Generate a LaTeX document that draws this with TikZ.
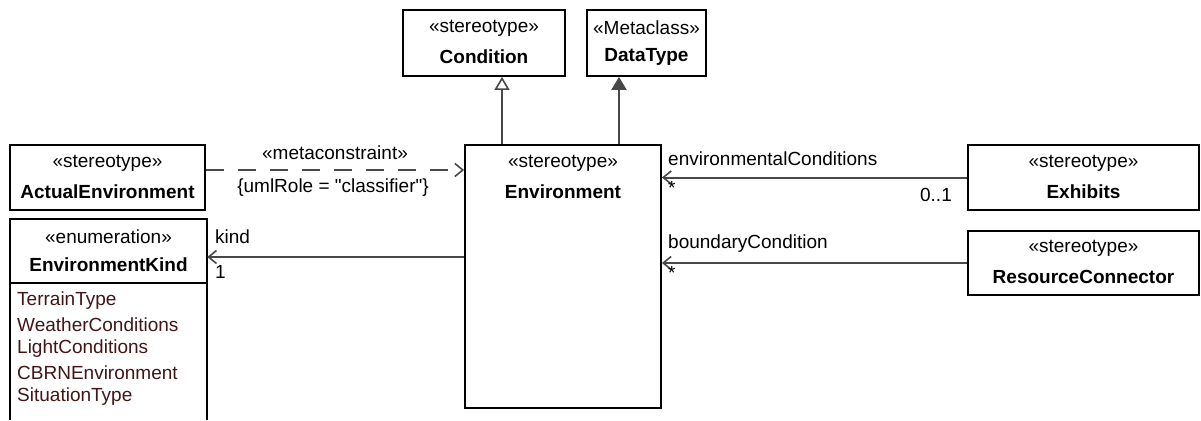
\documentclass[tikz,border=0pt]{standalone}
\usepackage{fontspec}
\setmainfont{Liberation Sans}[Ligatures=TeXOff]
\usetikzlibrary{arrows.meta}
\definecolor{linegray}{RGB}{72,72,72}
\definecolor{litcolor}{RGB}{64,22,22}
\tikzset{
  umlbox/.style={draw=black, line width=1.8pt, inner sep=0pt, fill=white},
  lbl/.style={inner sep=0pt, font=\fontsize{19}{23}\selectfont},
  bold/.style={lbl, font=\fontsize{19}{23}\selectfont\bfseries},
  lit/.style={lbl, anchor=west, text=litcolor},
  conn/.style={draw=linegray, line width=2pt},
  navarrow/.style={conn, -{Straight Barb[length=8pt, width=13pt, line width=1.6pt]}},
  genarrow/.style={conn, -{Triangle[open, length=13pt, width=15pt, line width=1.6pt, fill=white]}},
  extarrow/.style={conn, -{Triangle[length=13pt, width=15pt]}},
  depend/.style={conn, dash pattern=on 18pt off 14pt, -{Straight Barb[length=8pt, width=13pt, line width=1.6pt]}}
}
\begin{document}
\begin{tikzpicture}[x=1pt,y=-1pt]
\useasboundingbox (0,0) rectangle (1201,420);
\fill[white] (0,0) rectangle (1201,420);

% boxes
\node[umlbox, minimum width=162pt, minimum height=66pt] (cond) at (484,43) {};
\node[lbl] (condst) at (484,28) {«stereotype»};
\node[bold] (condnm) at (484,57) {Condition};

\node[umlbox, minimum width=119pt, minimum height=66pt] (dt) at (646.5,43) {};
\node[lbl] (dtst) at (646.5,28) {«Metaclass»};
\node[bold] (dtnm) at (646.5,57) {DataType};

\node[umlbox, minimum width=195pt, minimum height=65pt] (ae) at (107.5,177.5) {};
\node[lbl] (aest) at (107.5,163) {«stereotype»};
\node[bold] (aenm) at (107.5,192) {ActualEnvironment};

\node[inner sep=0pt, minimum width=197pt, minimum height=201pt] (ek) at (108.5,319.5) {};
\draw[black, line width=1.8pt] (ek.south west) -- (ek.north west) -- (ek.north east) -- (ek.south east);
\coordinate (sep) at (0,283);
\draw[black, line width=1.5pt] (ek.west |- sep) -- (ek.east |- sep);
\node[lbl] (ekst) at (108.5,237) {«enumeration»};
\node[bold] (eknm) at (108.5,265) {EnvironmentKind};
\node[lit] (l1) at (17,301) {TerrainType};
\node[lit] (l2) at (17,325) {WeatherConditions};
\node[lit] (l3) at (17,349) {LightConditions};
\node[lit] (l4) at (17,373) {CBRNEnvironment};
\node[lit] (l5) at (17,397) {SituationType};

\node[umlbox, minimum width=196pt, minimum height=263pt] (env) at (563,276.5) {};
\node[lbl] (envst) at (563,163) {«stereotype»};
\node[bold] (envnm) at (563,192) {Environment};

\node[umlbox, minimum width=231pt, minimum height=65pt] (exh) at (1083.5,177.5) {};
\node[lbl] (exhst) at (1083.5,163) {«stereotype»};
\node[bold] (exhnm) at (1083.5,192) {Exhibits};

\node[umlbox, minimum width=231pt, minimum height=64pt] (rc) at (1083.5,263) {};
\node[lbl] (rcst) at (1083.5,248) {«stereotype»};
\node[bold] (rcnm) at (1083.5,277) {ResourceConnector};

% connectors
\coordinate (gx) at (502,0);
\coordinate (ex) at (619,0);
\coordinate (dy) at (0,170);
\coordinate (ky) at (0,257);
\draw[genarrow] (gx |- env.north) -- (gx |- cond.south);
\draw[extarrow] (ex |- env.north) -- (ex |- dt.south);
\draw[depend] (ae.east |- dy) -- (env.west |- dy);
\draw[navarrow] (env.west |- ky) -- (ek.east |- ky);
\draw[navarrow] (exh.west) -- (exh.west -| env.east);
\draw[navarrow] (rc.west) -- (rc.west -| env.east);

% labels
\node[lbl] (mc) at (335,153) {«metaconstraint»};
\node[lbl] (ur) at (333,188) {\{umlRole = "classifier"\}};
\node[lbl, anchor=west] (kind) at (215,237) {kind};
\node[lbl, anchor=west] (kone) at (215,272) {1};
\node[lbl, anchor=west] (ecl) at (668,159) {environmentalConditions};
\node[lbl, anchor=west] (ecs) at (668,188) {*};
\node[lbl, anchor=east] (ecm) at (952,195) {0..1};
\node[lbl, anchor=west] (bcl) at (668,244) {boundaryCondition};
\node[lbl, anchor=west] (bcs) at (668,273) {*};
\end{tikzpicture}
\end{document}
